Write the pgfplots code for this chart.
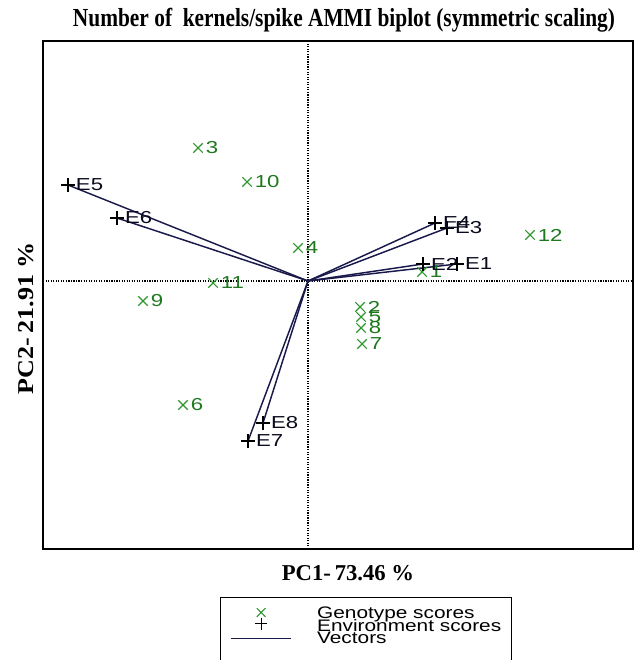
\documentclass[border=0pt]{standalone}
\usepackage{pgfplots}
\pgfplotsset{compat=1.18}
\usepackage{pgfplotstable}
\usepackage{fontspec}
\setmainfont{Liberation Serif}
\setsansfont{Liberation Sans}
\newfontfamily\arialf{Liberation Sans}
\usetikzlibrary{calc}
\definecolor{gmark}{RGB}{45,150,45}
\definecolor{glab}{RGB}{30,120,30}
\definecolor{vnavy}{RGB}{25,25,75}
\definecolor{elab}{RGB}{10,10,30}

\pgfplotstableread{
x y lab
114 9 1
52 -26 2
-110 133 3
-10 33 4
53 -36 5
-125 -124 6
54 -63 7
53 -47 8
-165 -20 9
-61 99 10
-95 -2 11
222 46 12
}\geno

\pgfplotstableread{
x y lab
149 17 E1
115 17 E2
139 53 E3
127 58 E4
-240 96 E5
-191 63 E6
-60 -160 E7
-45 -142 E8
}\env

\begin{document}
\begin{tikzpicture}
\begin{axis}[
  scale only axis, width=442.5pt, height=381pt,
  xmin=-265, xmax=325, ymin=-268, ymax=240,
  xtick=\empty, ytick=\empty,
  axis line style={line width=1.5pt},
  clip=false,
  legend cell align=left,
  legend style={at={(0.300,-0.0945)}, anchor=north west, draw=black, line width=0.9pt,
    font={\arialf\fontsize{12.5}{12.5}\selectfont},
    nodes={inner sep=0pt, text height=8.9pt, text depth=0.5pt},
    row sep=0pt, inner xsep=7.5pt, inner ysep=7pt},
]
\addplot[forget plot, black, densely dotted, line width=0.9pt] coordinates {(-265,0) (325,0)};
\addplot[forget plot, black, densely dotted, line width=0.9pt] coordinates {(0,-268) (0,240)};

\addplot[forget plot, vnavy, line width=1.1pt] coordinates {(0,0) (149,17)};
\addplot[forget plot, vnavy, line width=1.1pt] coordinates {(0,0) (115,17)};
\addplot[forget plot, vnavy, line width=1.1pt] coordinates {(0,0) (139,53)};
\addplot[forget plot, vnavy, line width=1.1pt] coordinates {(0,0) (127,58)};
\addplot[forget plot, vnavy, line width=1.1pt] coordinates {(0,0) (-240,96)};
\addplot[forget plot, vnavy, line width=1.1pt] coordinates {(0,0) (-191,63)};
\addplot[forget plot, vnavy, line width=1.1pt] coordinates {(0,0) (-60,-160)};
\addplot[forget plot, vnavy, line width=1.1pt] coordinates {(0,0) (-45,-142)};

\addplot[forget plot, only marks, mark=x, mark size=5pt, gmark, mark options={line width=0.8pt},
  point meta=explicit symbolic,
  nodes near coords={\scalebox{1.28}[1]{\pgfplotspointmeta}},
  nodes near coords style={anchor=west, xshift=5.5pt, inner sep=0pt, text=glab, font={\arialf\fontsize{13}{13}\selectfont}}]
  table[x=x, y=y, meta=lab] {\geno};

\addplot[forget plot, only marks, mark=+, mark size=5pt, black, mark options={line width=1pt},
  point meta=explicit symbolic,
  nodes near coords={\scalebox{1.28}[1]{\pgfplotspointmeta}},
  nodes near coords style={anchor=west, xshift=5.5pt, inner sep=0pt, text=elab, font={\arialf\fontsize{13}{13}\selectfont}}]
  table[x=x, y=y, meta=lab] {\env};

\addlegendimage{legend image code/.code={\path (0pt,0pt) (64pt,0pt); \draw[overlay, gmark, line width=0.8pt] plot[mark=x, mark size=4.6pt] coordinates {(22.5pt,0.5pt)};}}
\addlegendentry{\scalebox{1.25}[1]{Genotype scores}}
\addlegendimage{legend image code/.code={\path (0pt,0pt) (64pt,0pt); \draw[overlay, black, line width=1pt] plot[mark=+, mark size=4.4pt] coordinates {(22.5pt,1.5pt)};}}
\addlegendentry{\scalebox{1.25}[1]{Environment scores}}
\addlegendimage{legend image code/.code={\path (0pt,0pt) (64pt,0pt); \draw[overlay, vnavy, line width=1.1pt] (0pt,0pt) -- (45pt,0pt);}}
\addlegendentry{\scalebox{1.25}[1]{Vectors}}
\addlegendimage{legend image code/.code={\path (0pt,0pt) (64pt,0pt);}}
\addlegendentry{}

\node[anchor=base] at (axis cs:36,254) {\resizebox{406.5pt}{\height}{\fontsize{19.5}{19.5}\selectfont\bfseries Number of\ \ kernels/spike AMMI biplot (symmetric scaling)}};
\node[anchor=base] at (axis cs:40,-299) {\fontsize{17}{17}\selectfont\bfseries PC1-\thinspace 73.46 \%};
\node[anchor=base, rotate=90] at (axis cs:-275,-37) {\scalebox{1.15}[1]{\fontsize{17}{17}\selectfont\bfseries PC2-\thinspace 21.91 \%}};

\coordinate (bl) at (rel axis cs:0,0);
\coordinate (tr) at (rel axis cs:1,1);
\end{axis}
\pgfresetboundingbox
\path[use as bounding box] ($(bl)+(-32.25pt,-83.25pt)$) rectangle ($(tr)+(6.75pt,30.75pt)$);
\end{tikzpicture}
\end{document}
